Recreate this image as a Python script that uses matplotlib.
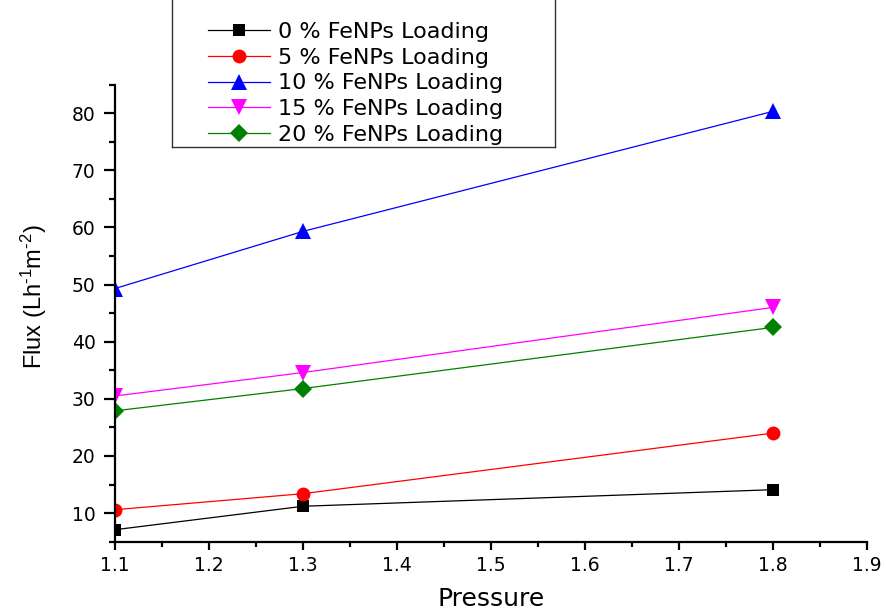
import numpy as np
import matplotlib.pyplot as plt
from matplotlib.lines import Line2D
from matplotlib.ticker import MultipleLocator

pressure = [1.1, 1.3, 1.8]
flux_0 = [7.1, 11.2, 14.1]
flux_5 = [10.6, 13.4, 24.0]
flux_10 = [49.3, 59.3, 80.3]
flux_15 = [30.5, 34.6, 46.0]
flux_20 = [27.9, 31.8, 42.5]

labels = ['0 % FeNPs Loading', '5 % FeNPs Loading', '10 % FeNPs Loading',
          '15 % FeNPs Loading', '20 % FeNPs Loading']
series = [flux_0, flux_5, flux_10, flux_15, flux_20]
colors = ['black', '#ff0000', '#0000ff', '#ff00ff', '#008000']
markers = ['s', 'o', '^', 'v', 'D']
msizes = [9, 10, 11, 11, 9]

plt.rcParams['font.family'] = ['DejaVu Sans']
plt.rcParams['mathtext.fontset'] = 'custom'
plt.rcParams['mathtext.rm'] = 'Liberation Sans'
plt.rcParams['mathtext.it'] = 'Liberation Sans'
plt.rcParams['mathtext.default'] = 'regular'

fig = plt.figure(figsize=(8.86, 6.11), dpi=100)
ax = fig.add_axes([115/886, 1 - 541.7/611, (867 - 115)/886, (541.7 - 84.5)/611])

for y, c, m, ms, lab in zip(series, colors, markers, msizes, labels):
    ax.plot(pressure, y, color=c, marker=m, markersize=ms, linewidth=0.9,
            markeredgewidth=0, label=lab)

ax.set_xlim(1.1, 1.9)
ax.set_ylim(5, 85)
ax.xaxis.set_major_locator(MultipleLocator(0.1))
ax.xaxis.set_minor_locator(MultipleLocator(0.05))
ax.yaxis.set_major_locator(MultipleLocator(10))
ax.yaxis.set_minor_locator(MultipleLocator(5))

for s in ['top', 'right']:
    ax.spines[s].set_visible(False)
for s in ['left', 'bottom']:
    ax.spines[s].set_linewidth(1.6)

ax.tick_params(axis='x', which='major', direction='out', length=6, width=1.6,
               labelsize=13.5, pad=4)
ax.tick_params(axis='x', which='minor', direction='out', length=3.5, width=1.6)
ax.tick_params(axis='y', which='major', direction='out', length=8, width=1.6,
               labelsize=13.5, pad=6)
ax.tick_params(axis='y', which='minor', direction='out', length=4.5, width=1.6)

ax.set_xlabel('Pressure', fontsize=18, labelpad=9)
ax.set_ylabel('Flux (Lh$^{\\text{-}1}$m$^{\\text{-}2}$)', fontsize=17,
              family='Liberation Sans', labelpad=0)
ax.yaxis.set_label_coords(-0.088, 0.535)

leg = fig.legend(loc='center left', bbox_to_anchor=(208/886, 1 - 83.3/611),
                 frameon=False, fontsize=16, handlelength=2.8, handletextpad=0.35,
                 labelspacing=0.26, borderpad=0, borderaxespad=0)

# legend box (top edge runs off the figure)
lx0, lx1, ly0 = 172/886, 555/886, 1 - 147/611
for xs, ys in [([lx0, lx0], [1.0, ly0]), ([lx0, lx1], [ly0, ly0]), ([lx1, lx1], [ly0, 1.0])]:
    fig.add_artist(Line2D(xs, ys, color='#333333', linewidth=1.0, transform=fig.transFigure))

fig.savefig('out.png', dpi=100)
